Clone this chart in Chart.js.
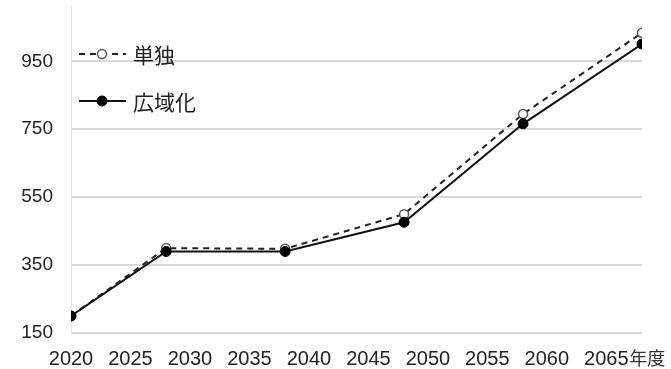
<!DOCTYPE html>
<html lang="ja">
<head>
<meta charset="utf-8">
<script src="https://cdn.jsdelivr.net/npm/chart.js@4.4.1/dist/chart.umd.min.js"></script>
<style>
  html, body { margin: 0; padding: 0; background: #fff; }
  #wrap { position: relative; width: 671px; height: 369px; }
</style>
</head>
<body>
<div id="wrap"><canvas id="line-chart"></canvas></div>
<script>
const years = [2020, 2028, 2038, 2048, 2058, 2068];
const tandoku = [200, 400, 398, 500, 795, 1034];
const kouiki = [200, 390, 390, 476, 766, 1001];
const seriesNames = ["単独", "広域化"];
const xTicks = [2020, 2025, 2030, 2035, 2040, 2045, 2050, 2055, 2060, 2065];
const yTicks = [150, 350, 550, 750, 950];
const yearUnit = "年度";

const textColor = "#222";

function toPoints(values) {
  return years.map((year, i) => ({ x: year, y: values[i] }));
}

// 凡例はグラフの中（左上）に描く + 最後の目盛りの横に「年度」
const insideLegend = {
  id: "insideLegend",
  afterDraw(chart) {
    const ctx = chart.ctx;
    const area = chart.chartArea;
    ctx.save();
    chart.data.datasets.forEach((ds, i) => {
      const y = 54 + i * 47;
      const x0 = area.left + 8;
      ctx.strokeStyle = ds.borderColor;
      ctx.lineWidth = 2;
      ctx.setLineDash(ds.borderDash || []);
      ctx.beginPath();
      ctx.moveTo(x0, y);
      ctx.lineTo(x0 + 47, y);
      ctx.stroke();
      ctx.setLineDash([]);
      ctx.beginPath();
      ctx.arc(x0 + 23, y, ds.pointRadius, 0, Math.PI * 2);
      ctx.fillStyle = ds.pointBackgroundColor;
      ctx.fill();
      ctx.lineWidth = ds.pointBorderWidth;
      ctx.strokeStyle = ds.pointBorderColor;
      ctx.stroke();
      ctx.fillStyle = textColor;
      ctx.font = '21px "Noto Sans CJK JP"';
      ctx.textBaseline = "middle";
      ctx.textAlign = "left";
      ctx.fillText(ds.label, x0 + 54, y + 1);
    });

    const xs = chart.scales.x;
    const last = xTicks[xTicks.length - 1];
    ctx.font = '18px "Noto Sans CJK JP"';
    ctx.fillStyle = "#333";
    ctx.textBaseline = "middle";
    ctx.fillText(yearUnit, xs.getPixelForValue(last) + 23, 358);
    ctx.restore();
  },
};

new Chart(document.getElementById("line-chart"), {
  type: "line",
  data: {
    datasets: [
      {
        label: seriesNames[0],
        data: toPoints(tandoku),
        borderColor: "#222",
        borderWidth: 2,
        borderDash: [6, 5],
        pointRadius: 4.5,
        pointBackgroundColor: "#fff",
        pointBorderColor: "#555",
        pointBorderWidth: 1.5,
        order: 2,
      },
      {
        label: seriesNames[1],
        data: toPoints(kouiki),
        borderColor: "#111",
        borderWidth: 2,
        pointRadius: 5,
        pointBackgroundColor: "#000",
        pointBorderColor: "#000",
        pointBorderWidth: 1,
        order: 1,
      },
    ],
  },
  options: {
    responsive: true,
    maintainAspectRatio: false,
    animation: false,
    layout: { padding: { top: 0, right: 29, left: 0, bottom: 0 } },
    plugins: {
      legend: { display: false },
      tooltip: { enabled: false },
    },
    scales: {
      x: {
        type: "linear",
        min: 2020,
        max: 2068,
        grid: { display: false, drawTicks: false },
        border: { display: false },
        afterBuildTicks: (s) => {
          s.ticks = xTicks.map((v) => ({ value: v }));
        },
        ticks: {
          autoSkip: false,
          maxRotation: 0,
          padding: 14,
          color: textColor,
          font: { family: "'Liberation Sans', sans-serif", size: 20 },
          callback: (v) => String(v),
        },
        afterFit: (s) => {
          s.height = 36;
          s.paddingLeft = 0;
          s.paddingRight = 0;
        },
      },
      y: {
        min: 150,
        max: 1113,
        grid: { color: "#d9d9d9", lineWidth: 2, drawTicks: false },
        border: { display: true, color: "#e4e4e4", width: 1 },
        afterBuildTicks: (s) => {
          s.ticks = yTicks.map((v) => ({ value: v }));
        },
        ticks: {
          padding: 18,
          color: textColor,
          font: { family: "'Liberation Sans', sans-serif", size: 19 },
        },
        afterFit: (s) => {
          s.width = 71;
          s.paddingTop = 0;
          s.paddingBottom = 0;
        },
      },
    },
  },
  plugins: [insideLegend],
});
</script>
</body>
</html>
